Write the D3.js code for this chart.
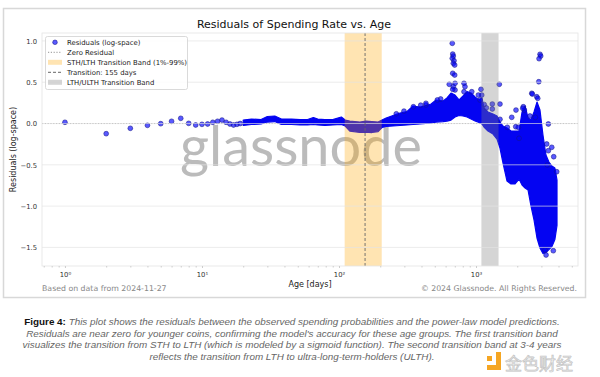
<!DOCTYPE html>
<html>
<head>
<meta charset="utf-8">
<script src="https://cdn.jsdelivr.net/npm/d3@7"></script>
<style>
  body { margin: 0; background: #fff; }
  svg { display: block; }
</style>
</head>
<body>
<svg id="chart" width="600" height="377"></svg>
<script>
// --- Daten ---
// einzelne Punkte, junge Coins (Alter in Tagen)
const singleAge = [1, 2, 3, 4, 5, 6, 7, 8, 9, 10, 11, 12, 13, 14, 15, 16, 17, 18, 19];
const singleResid = [0.015, -0.123, -0.058, -0.022, -0.002, 0.027, 0.063, 0.002, -0.018, -0.010,
  -0.006, 0.015, 0.027, 0.042, 0.015, -0.006, -0.018, -0.010, 0.000];

// dichte Punktwolke: obere / untere Kante je Alter
const denseAge = [20, 23, 27, 30, 34, 38, 45, 52, 59, 65, 70, 79, 90, 104, 111, 120, 142, 157, 174, 193,
  206, 221, 248, 279, 314, 347, 390, 431, 470, 511, 575, 614, 657, 703, 752, 804, 860, 920, 984, 1052,
  1106, 1143, 1223, 1331, 1423, 1496, 1574, 1684, 1800, 1927, 2061, 2168, 2280, 2397, 2520, 2650, 2786,
  2929, 3080, 3238, 3405, 3580, 3764, 3900];
const denseHigh = [0.042, 0.054, 0.048, 0.085, 0.091, 0.054, 0.054, 0.048, 0.048, 0.073, 0.054, 0.048,
  0.048, 0.079, 0.042, 0.030, 0.018, 0.030, 0.024, 0.018, 0.042, 0.067, 0.097, 0.127, 0.145, 0.212,
  0.200, 0.218, 0.236, 0.285, 0.272, 0.309, 0.369, 0.345, 0.285, 0.333, 0.387, 0.369, 0.321, 0.285,
  0.309, 0.188, 0.139, 0.115, 0.091, 0.018, -0.030, -0.054, -0.091, -0.091, -0.091, 0.139, 0.212,
  0.067, 0.042, 0.139, 0.260, 0.163, -0.139, -0.381, -0.466, -0.515, -0.539, -0.684];
const denseLow = [-0.024, -0.012, -0.006, 0.018, 0.024, -0.012, -0.012, -0.018, -0.018, -0.012, -0.018,
  -0.024, -0.018, -0.012, -0.030, -0.091, -0.109, -0.103, -0.109, -0.097, -0.048, -0.036, -0.030,
  -0.024, -0.018, -0.012, -0.006, 0.000, 0.006, 0.018, 0.024, 0.030, 0.042, 0.079, 0.097, 0.091,
  0.079, 0.054, 0.030, 0.012, -0.006, -0.042, -0.091, -0.127, -0.188, -0.297, -0.478, -0.696, -0.732,
  -0.732, -0.672, -0.745, -0.781, -0.805, -0.999, -1.168, -1.386, -1.507, -1.574, -1.562, -1.526,
  -1.489, -1.404, -1.235];

// vereinzelte Ausreißer
const outlierAge = [671, 676, 683, 671, 691, 683, 699, 676, 699, 703, 683, 703, 676, 638, 552, 522, 349,
  431, 817, 831, 817, 931, 1087, 1101, 1040, 1070, 1479, 1315, 1315, 1496, 1496, 1958, 1822, 1692,
  1949, 2214, 2254, 2552, 2774, 2821, 2871, 2932, 2966, 2884, 2477, 2710, 3371, 3281, 3570, 3371,
  3690, 3314, 2061, 3190, 3245, 3665, 3881, 2036, 2193, 2576, 431, 395, 298, 262, 1148, 1190];
const outlierResid = [0.971, 0.841, 0.817, 0.789, 0.760, 0.729, 0.708, 0.608, 0.587, 0.487, 0.446,
  0.406, 0.414, 0.475, 0.297, 0.285, 0.203, 0.224, 0.487, 0.446, 0.385, 0.385, 0.414, 0.345, 0.345,
  0.285, 0.475, 0.236, 0.176, 0.236, 0.051, 0.163, 0.075, -0.046, -0.039, 0.203, 0.163, 0.366, 0.324,
  0.305, 0.506, 0.838, 0.817, 0.785, 0.091, 0.075, -0.006, -0.248, -0.288, -0.329, -0.402, -0.502,
  -0.179, -1.531, -1.592, -1.540, -0.584, -0.046, 0.184, 0.357, 0.245, 0.222, 0.150, 0.118, 0.230, 0.190];

const sthBand = [110, 205];      // STH/LTH Übergang (1%-99%)
const transitionDay = 155;
const ulthBand = [1095, 1460];   // LTH/ULTH Übergang (3-4 Jahre)

const xTicks = [1, 10, 100, 1000];
const yTicks = [1.0, 0.5, 0.0, -0.5, -1.0, -1.5];

const legendLabels = ["Residuals (log-space)", "Zero Residual", "STH/LTH Transition Band (1%-99%)",
  "Transition: 155 days", "LTH/ULTH Transition Band"];

const captionLines = [
  "This plot shows the residuals between the observed spending probabilities and the power-law model predictions.",
  "Residuals are near zero for younger coins, confirming the model's accuracy for these age groups. The first transition band",
  "visualizes the transition from STH to LTH (which is modeled by a sigmoid function). The second transition band at 3-4 years",
  "reflects the transition from LTH to ultra-long-term-holders (ULTH)."
];

// --- Layout ---
const svg = d3.select("#chart");
const plot = { left: 42, right: 578, top: 33, bottom: 266 };
const FONT = "DejaVu Sans, sans-serif";

const x = d3.scaleLog().domain([0.68, 5550]).range([plot.left, plot.right]);
const y = d3.scaleLinear().domain([-1.725, 1.096]).range([plot.bottom, plot.top]);

// Rahmen der Grafik
svg.append("rect")
  .attr("x", 3.5).attr("y", 8.5).attr("width", 582).attr("height", 289)
  .attr("fill", "#fff").attr("stroke", "#d8d8d8").attr("stroke-width", 1.5);

svg.append("text")
  .attr("x", 294).attr("y", 28)
  .attr("text-anchor", "middle")
  .attr("font-family", FONT).attr("font-size", 11).attr("fill", "#111")
  .text("Residuals of Spending Rate vs. Age");

svg.append("clipPath").attr("id", "plotclip")
  .append("rect")
  .attr("x", plot.left).attr("y", plot.top)
  .attr("width", plot.right - plot.left).attr("height", plot.bottom - plot.top);

// Wasserzeichen
svg.append("text")
  .attr("x", 301).attr("y", 166)
  .attr("text-anchor", "middle")
  .attr("font-family", "Lato, sans-serif").attr("font-size", 56)
  .attr("fill", "#b0b0b0").attr("opacity", 0.85)
  .attr("textLength", 242).attr("lengthAdjust", "spacingAndGlyphs")
  .text("glassnode");

const g = svg.append("g").attr("clip-path", "url(#plotclip)");

// Nulllinie
g.append("line")
  .attr("x1", plot.left).attr("x2", plot.right)
  .attr("y1", y(0)).attr("y2", y(0))
  .attr("stroke", "#777").attr("stroke-width", 0.8).attr("stroke-dasharray", "1.2,1.6");

// dichte Wolke
const denseData = denseAge.map((a, i) => ({ age: a, high: denseHigh[i], low: denseLow[i] }));
g.append("path")
  .datum(denseData)
  .attr("d", d3.area().x(d => x(d.age)).y0(d => y(d.low)).y1(d => y(d.high)))
  .attr("fill", "#0404f2").attr("stroke", "#0404f2").attr("stroke-width", 1.2)
  .attr("stroke-linejoin", "round");

const pts = singleAge.map((a, i) => ({ age: a, r: singleResid[i] }))
  .concat(outlierAge.map((a, i) => ({ age: a, r: outlierResid[i] })));

g.selectAll("circle.pt")
  .data(pts)
  .enter().append("circle")
  .attr("class", "pt")
  .attr("cx", d => x(d.age)).attr("cy", d => y(d.r)).attr("r", 2.4)
  .attr("fill", "#0000ff").attr("fill-opacity", 0.65)
  .attr("stroke", "#14148c").attr("stroke-opacity", 0.8).attr("stroke-width", 0.7);

// Übergangsbänder (über den Punkten, halbtransparent)
g.append("rect")
  .attr("x", x(sthBand[0])).attr("width", x(sthBand[1]) - x(sthBand[0]))
  .attr("y", plot.top).attr("height", plot.bottom - plot.top)
  .attr("fill", "orange").attr("fill-opacity", 0.3);

g.append("rect")
  .attr("x", x(ulthBand[0])).attr("width", x(ulthBand[1]) - x(ulthBand[0]))
  .attr("y", plot.top).attr("height", plot.bottom - plot.top)
  .attr("fill", "gray").attr("fill-opacity", 0.33);

// Gitter
g.selectAll("line.grid")
  .data(yTicks)
  .enter().append("line")
  .attr("class", "grid")
  .attr("x1", plot.left).attr("x2", plot.right)
  .attr("y1", d => y(d)).attr("y2", d => y(d))
  .attr("stroke", "#e2e2e2").attr("stroke-opacity", 0.75).attr("stroke-width", 0.9);

g.append("line")
  .attr("x1", x(transitionDay)).attr("x2", x(transitionDay))
  .attr("y1", plot.top).attr("y2", plot.bottom)
  .attr("stroke", "#666").attr("stroke-width", 0.9).attr("stroke-dasharray", "3,2");

// Achsenrahmen
svg.append("rect")
  .attr("x", plot.left).attr("y", plot.top)
  .attr("width", plot.right - plot.left).attr("height", plot.bottom - plot.top)
  .attr("fill", "none").attr("stroke", "#e4e4e4").attr("stroke-width", 0.8);

// Achsen
const sup = { "0": "⁰", "1": "¹", "2": "²", "3": "³" };
const xAxis = svg.append("g")
  .attr("transform", `translate(0,${plot.bottom})`)
  .call(d3.axisBottom(x).tickValues(xTicks).tickSize(2).tickPadding(4)
    .tickFormat(d => "10" + sup[String(Math.round(Math.log10(d)))]));

const minor = [];
for (let e = -1; e <= 3; e++) for (let k = 2; k <= 9; k++) {
  const v = k * Math.pow(10, e);
  if (v > 0.68 && v < 5550) minor.push(v);
}
const xMinor = svg.append("g")
  .attr("transform", `translate(0,${plot.bottom})`)
  .call(d3.axisBottom(x).tickValues(minor).tickSize(1.5).tickFormat(""));

const yAxis = svg.append("g")
  .attr("transform", `translate(${plot.left},0)`)
  .call(d3.axisLeft(y).tickValues(yTicks).tickSize(0).tickPadding(5).tickFormat(d3.format(".1f")));

[xAxis, xMinor, yAxis].forEach(a => {
  a.select(".domain").remove();
  a.selectAll("line").attr("stroke", "#ccc");
  a.selectAll("text").attr("font-family", FONT).attr("font-size", 6.8).attr("fill", "#333");
});

svg.append("text")
  .attr("x", (plot.left + plot.right) / 2).attr("y", 287)
  .attr("text-anchor", "middle")
  .attr("font-family", FONT).attr("font-size", 8).attr("fill", "#222")
  .text("Age [days]");

svg.append("text")
  .attr("transform", `translate(15.5,${(plot.top + plot.bottom) / 2}) rotate(-90)`)
  .attr("text-anchor", "middle")
  .attr("font-family", FONT).attr("font-size", 8).attr("fill", "#222")
  .text("Residuals (log-space)");

svg.append("text")
  .attr("x", 42).attr("y", 291)
  .attr("font-family", FONT).attr("font-size", 7.8).attr("fill", "#888")
  .text("Based on data from 2024-11-27");

svg.append("text")
  .attr("x", 577).attr("y", 291)
  .attr("text-anchor", "end")
  .attr("font-family", FONT).attr("font-size", 7.8).attr("fill", "#888")
  .text("© 2024 Glassnode. All Rights Reserved.");

// Legende
const legend = svg.append("g");
legend.append("rect")
  .attr("x", 45.5).attr("y", 36.5).attr("width", 142).attr("height", 53).attr("rx", 2)
  .attr("fill", "#fff").attr("fill-opacity", 0.85).attr("stroke", "#d0d0d0").attr("stroke-width", 0.8);

const lg = legend.selectAll("g.item")
  .data(legendLabels)
  .enter().append("g")
  .attr("class", "item")
  .attr("transform", (d, i) => `translate(0,${42.3 + i * 10})`);

lg.append("text")
  .attr("x", 67).attr("y", 2.4)
  .attr("font-family", FONT).attr("font-size", 6.9).attr("fill", "#222")
  .text(d => d);

lg.filter((d, i) => i === 0).append("circle")
  .attr("cx", 55).attr("cy", 0).attr("r", 2.3)
  .attr("fill", "#0000ff").attr("fill-opacity", 0.65)
  .attr("stroke", "#14148c").attr("stroke-opacity", 0.8).attr("stroke-width", 0.7);
lg.filter((d, i) => i === 1).append("line")
  .attr("x1", 48).attr("x2", 62).attr("y1", 0).attr("y2", 0)
  .attr("stroke", "#777").attr("stroke-width", 0.8).attr("stroke-dasharray", "1.2,1.6");
lg.filter((d, i) => i === 2).append("rect")
  .attr("x", 48).attr("y", -2.5).attr("width", 14).attr("height", 5)
  .attr("fill", "orange").attr("fill-opacity", 0.3);
lg.filter((d, i) => i === 3).append("line")
  .attr("x1", 48).attr("x2", 62).attr("y1", 0).attr("y2", 0)
  .attr("stroke", "#555").attr("stroke-width", 0.9).attr("stroke-dasharray", "3,2");
lg.filter((d, i) => i === 4).append("rect")
  .attr("x", 48).attr("y", -2.5).attr("width", 14).attr("height", 5)
  .attr("fill", "gray").attr("fill-opacity", 0.33);

// Bildunterschrift
const cap = svg.append("g");
captionLines.forEach((line, i) => {
  const t = cap.append("text")
    .attr("x", 292).attr("y", 325 + i * 11.7)
    .attr("text-anchor", "middle")
    .attr("font-family", "Liberation Sans, Arial, sans-serif").attr("font-size", 9.9);
  if (i === 0) {
    t.append("tspan").attr("font-weight", "bold").attr("fill", "#111").text("Figure 4: ");
  }
  t.append("tspan").attr("font-style", "italic").attr("fill", "#666").text(line);
});

// Logo-Wasserzeichen des Nachdrucks
const logo = svg.append("g");
logo.append("rect").attr("x", 487).attr("y", 356).attr("width", 5).attr("height", 5).attr("fill", "#f5a623");
logo.append("path").attr("d", "M496,352 h5 v18 h-14 v-5 h9 z").attr("fill", "#f5a623");
logo.append("text")
  .attr("x", 505).attr("y", 370)
  .attr("font-family", "Noto Sans CJK SC, sans-serif").attr("font-size", 17)
  .attr("fill", "#f2f2f2").attr("stroke", "#c4c4c4").attr("stroke-width", 0.7)
  .text("金色财经");
</script>
</body>
</html>
